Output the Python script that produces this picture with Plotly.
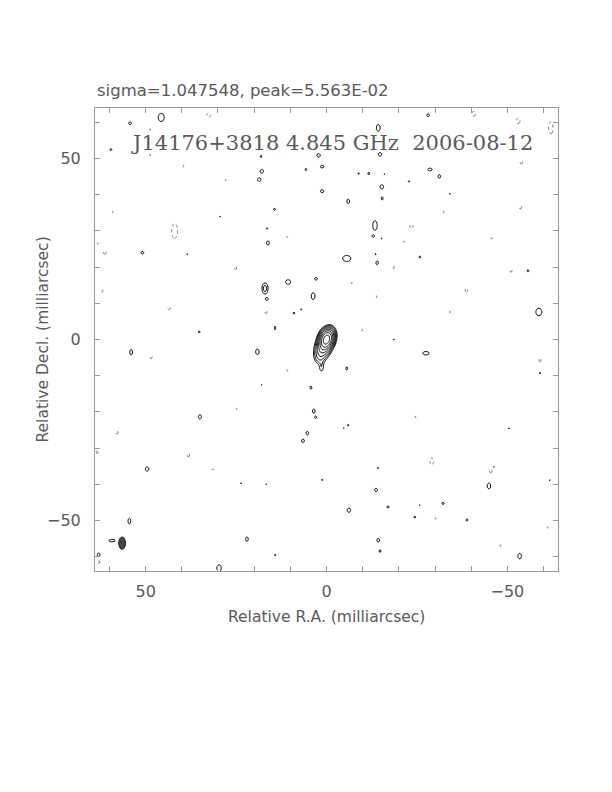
import numpy as np
import plotly.graph_objects as go

header_text = "sigma=1.047548, peak=5.563E-02"
map_title = "J14176+3818 4.845 GHz  2006-08-12"
x_label = "Relative R.A. (milliarcsec)"
y_label = "Relative Decl. (milliarcsec)"
tick_vals = [60, 50, 40, 30, 20, 10, 0, -10, -20, -30, -40, -50, -60]
tick_text = ["", "50", "", "", "", "", "0", "", "", "", "", "\u221250", ""]

# source components (units of the lowest contour): RA, Dec, amplitude, sigma major, sigma minor, PA (deg)
src_ra = [0.0, 1.0, 1.8, 1.4]
src_dec = [0.0, -2.5, -4.6, -7.6]
src_amp = [200.0, 18.0, 5.0, 1.8]
src_smaj = [1.3, 1.2, 1.2, 1.0]
src_smin = [0.85, 1.0, 0.9, 0.45]
src_pa = [-18.0, -10.0, 0.0, 0.0]

# positive noise islands: RA, Dec, amplitude, sigma RA, sigma Dec
pos_ra = [45.7, 54.3, 59.6, 2.2, 1.2, 17.9, 18.6, 5.7, 1.2, 18.1, 14.4, 16.4, 16.2, 50.9, 38.5,
          17.0, 16.5, 10.6, 2.9, 3.7, 9.0, 7.0, 14.2, 35.2, 29.4, -14.3, -28.1, -14.8, -28.6,
          -31.2, -8.9, -11.7, -16.0, -15.3, -15.4, -22.8, -6.0, -34.1, -13.4, -12.9, -15.2,
          -5.6, -13.6, -14.0, -25.8, -55.7, -58.7, -18.6,
          19.1, 54.0, -27.5, -5.6, 4.3, 17.9, 35.0, 3.5, 3.0, 5.3, 6.5, -6.0, -14.2, 1.2, 49.6,
          -13.7, 23.6, 54.5, 16.7, 22.0, 14.2, 29.7, -6.2, -14.3, -14.8, -17.0, -24.4, -25.8,
          -32.2, -38.8, -44.9, -46.3, -53.4, -50.4, -61.7, -59.0, -4.8, 59.3, 63.0]
pos_dec = [61.4, 59.8, 52.5, 50.9, 47.8, 46.5, 44.2, 47.0, 41.0, 50.6, 36.0, 30.7, 26.7, 24.0, 23.6,
           14.1, 11.2, 15.9, 16.8, 12.0, 7.3, 8.3, 3.2, 2.1, 34.0, 58.5, 62.0, 51.2, 47.0,
           45.1, 45.9, 45.9, 45.7, 42.2, 39.0, 43.7, 38.2, 40.3, 31.5, 28.6, 27.9,
           22.4, 23.6, 21.2, 22.8, 19.0, 7.6, 0.0,
           -3.4, -3.5, -3.8, -8.0, -13.3, -12.6, -21.4, -19.8, -21.5, -25.9, -28.0, -23.7, -35.5, -38.8, -35.8,
           -41.6, -39.7, -50.2, -40.0, -55.2, -59.6, -63.2, -47.2, -55.5, -58.5, -46.3, -49.1, -45.8,
           -45.3, -49.9, -40.5, -35.2, -59.9, -24.6, -38.9, -9.3, -24.5, -55.6, -59.5]
pos_amp = [1.7, 1.6, 1.5, 1.6, 1.6, 1.6, 1.6, 1.5, 1.6, 1.5, 1.5, 1.4, 1.6, 1.6, 1.4,
           2.7, 1.6, 1.7, 1.6, 1.7, 1.5, 1.4, 1.5, 1.5, 1.4, 1.7, 1.6, 1.6, 1.6,
           1.6, 1.4, 1.5, 1.4, 1.6, 1.5, 1.4, 1.6, 1.4, 1.7, 1.5, 1.4,
           1.7, 1.4, 1.6, 1.5, 1.5, 1.7, 1.4,
           1.6, 1.6, 1.6, 1.5, 1.5, 1.4, 1.6, 1.6, 1.5, 1.6, 1.6, 1.4, 1.4, 1.4, 1.6,
           1.6, 1.4, 1.6, 1.4, 1.6, 1.4, 1.7, 1.6, 1.6, 1.5, 1.5, 1.5, 1.4,
           1.5, 1.5, 1.6, 1.4, 1.6, 1.4, 1.4, 1.4, 1.4, 1.6, 1.6]
pos_sx = [0.8, 0.4, 0.3, 0.5, 0.5, 0.5, 0.5, 0.25, 0.5, 0.2, 0.3, 0.2, 0.4, 0.4, 0.2,
          0.6, 0.4, 0.7, 0.4, 0.5, 0.3, 0.25, 0.2, 0.3, 0.2, 0.5, 0.4, 0.5, 0.6,
          0.4, 0.25, 0.3, 0.2, 0.5, 0.3, 0.25, 0.4, 0.2, 0.6, 0.35, 0.2,
          1.1, 0.2, 0.35, 0.3, 0.3, 0.8, 0.2,
          0.5, 0.4, 0.9, 0.3, 0.3, 0.2, 0.45, 0.4, 0.3, 0.4, 0.4, 0.25, 0.2, 0.2, 0.5,
          0.4, 0.2, 0.4, 0.2, 0.4, 0.25, 0.6, 0.5, 0.4, 0.3, 0.3, 0.3, 0.2,
          0.35, 0.3, 0.5, 0.2, 0.5, 0.2, 0.2, 0.25, 0.2, 0.9, 0.4]
pos_sy = [1.1, 0.4, 0.3, 0.5, 0.4, 0.5, 0.5, 0.4, 0.4, 0.4, 0.3, 0.3, 0.6, 0.4, 0.2,
          1.1, 0.4, 0.6, 0.4, 0.9, 0.3, 0.25, 0.6, 0.3, 0.2, 0.9, 0.4, 0.5, 0.4,
          0.5, 0.25, 0.4, 0.2, 0.6, 0.5, 0.25, 0.6, 0.2, 1.3, 0.35, 0.2,
          0.8, 0.25, 0.55, 0.3, 0.35, 1.0, 0.2,
          0.8, 0.8, 0.5, 0.5, 0.5, 0.2, 0.6, 0.6, 0.4, 0.5, 0.5, 0.3, 0.3, 0.3, 0.6,
          0.5, 0.2, 0.8, 0.2, 0.6, 0.25, 0.9, 0.6, 0.5, 0.4, 0.4, 0.3, 0.2,
          0.35, 0.35, 0.8, 0.2, 0.8, 0.25, 0.2, 0.3, 0.2, 0.35, 0.5]

# negative noise islands (dotted contours): RA, Dec, amplitude, sigma RA, sigma Dec
neg_ra = [42.0, 43.5, 61.3, 62.1, 25.1, 32.6, 39.7, 28.0, 59.2, 48.9, 48.8, 11.0, 16.7, 63.3,
          -40.7, -53.0, -62.0, -53.9, -53.6, -23.5, -21.4, -18.5, -38.7, -51.0, -13.7, -34.0,
          -45.6, -9.7, -32.3, -7.0, -29.1, -45.4, -59.0, 48.5, 25.0, 10.9, 38.2, 31.4, 57.9,
          63.4, 63.0, -24.5, -48.0, -61.0, -30.0]
neg_dec = [30.0, 8.6, 24.0, 13.4, 19.8, 62.0, 48.0, 44.0, 35.2, 50.9, 58.0, 28.3, 7.6, 26.5,
           62.4, 60.4, 58.5, 49.0, 36.5, 31.3, 27.0, 20.0, 13.6, 19.0, 11.8, 7.6,
           27.9, 2.6, 35.2, 15.6, -33.6, -36.4, -5.7, -4.9, -19.2, -8.7, -32.0, -36.0, -25.7,
           -31.0, -61.5, -21.5, -57.0, -52.0, -49.5]
neg_amp = [-1.7, -1.5, -1.5, -1.5, -1.5, -1.6, -1.4, -1.4, -1.4, -1.4, -1.4, -1.4, -1.5, -1.4,
           -1.6, -1.6, -1.7, -1.5, -1.5, -1.5, -1.4, -1.4, -1.5, -1.5, -1.4, -1.4,
           -1.4, -1.4, -1.4, -1.4, -1.6, -1.5, -1.5, -1.5, -1.4, -1.4, -1.5, -1.4, -1.5,
           -1.5, -1.5, -1.4, -1.4, -1.4, -1.4]
neg_sx = [0.8, 0.4, 0.4, 0.3, 0.3, 0.5, 0.3, 0.3, 0.3, 0.3, 0.3, 0.3, 0.3, 0.3,
          0.5, 0.5, 0.6, 0.4, 0.4, 0.5, 0.3, 0.3, 0.4, 0.3, 0.3, 0.3,
          0.3, 0.3, 0.3, 0.2, 0.6, 0.4, 0.3, 0.3, 0.3, 0.3, 0.4, 0.3, 0.3,
          0.3, 0.4, 0.3, 0.3, 0.3, 0.3]
neg_sy = [2.0, 0.4, 0.5, 0.4, 0.5, 0.6, 0.4, 0.3, 0.3, 0.4, 0.3, 0.3, 0.5, 0.3,
          0.7, 0.8, 1.6, 0.5, 0.4, 0.6, 0.3, 0.5, 0.6, 0.5, 0.4, 0.4,
          0.3, 0.4, 0.3, 0.2, 0.9, 0.5, 0.6, 0.5, 0.4, 0.3, 0.5, 0.3, 0.5,
          0.6, 0.4, 0.3, 0.3, 0.3, 0.3]

# restoring beam (full widths, mas)
beam_ra = 56.5
beam_dec = -56.3
beam_width = 1.9
beam_height = 3.4

# ---------------- build the image ----------------
half = 64.0
step = 0.25
ax = np.arange(-half, half + step / 2, step)
RA, DEC = np.meshgrid(ax, ax)
img = np.zeros_like(RA)

for r0, d0, a, smaj, smin, pa in zip(src_ra, src_dec, src_amp, src_smaj, src_smin, src_pa):
    t = np.deg2rad(pa)
    dr = RA - r0
    dd = DEC - d0
    u = dr * np.sin(t) + dd * np.cos(t)   # along major axis
    v = dr * np.cos(t) - dd * np.sin(t)
    img += a * np.exp(-0.5 * ((u / smaj) ** 2 + (v / smin) ** 2))

for lst in [(pos_ra, pos_dec, pos_amp, pos_sx, pos_sy), (neg_ra, neg_dec, neg_amp, neg_sx, neg_sy)]:
    for r0, d0, a, sx, sy in zip(*lst):
        img += a * np.exp(-0.5 * (((RA - r0) / sx) ** 2 + ((DEC - d0) / sy) ** 2))

z_pos = np.log2(np.clip(img, 0.05, None)).astype(np.float32)
z_neg = (-img).astype(np.float32)

fig = go.Figure()
fig.add_trace(go.Contour(
    x=ax, y=ax, z=z_pos,
    autocontour=False,
    contours=dict(start=0, end=7, size=1, coloring="lines"),
    line=dict(color="black", width=1),
    colorscale=[[0, "black"], [1, "black"]],
    showscale=False, hoverinfo="skip",
))
fig.add_trace(go.Contour(
    x=ax, y=ax, z=z_neg,
    autocontour=False,
    contours=dict(start=1, end=1, size=1, coloring="lines"),
    line=dict(color="#777", width=1, dash="dot"),
    colorscale=[[0, "#777"], [1, "#777"]],
    showscale=False, hoverinfo="skip",
))

fig.add_shape(type="circle", xref="x", yref="y",
              x0=beam_ra - beam_width / 2, x1=beam_ra + beam_width / 2,
              y0=beam_dec - beam_height / 2, y1=beam_dec + beam_height / 2,
              fillcolor="#444", line=dict(color="#222", width=1))

txt = "#5a5a5a"
axis_common = dict(
    tickvals=tick_vals, ticktext=tick_text, ticks="inside", ticklen=5,
    tickcolor="#999", showline=True, linecolor="#999", linewidth=1, mirror="ticks",
    showgrid=False, zeroline=False, tickfont=dict(family="DejaVu Sans", size=16, color=txt),
)
fig.update_layout(
    width=604, height=784,
    margin=dict(l=87, r=54, t=100, b=221),
    paper_bgcolor="white", plot_bgcolor="white",
    showlegend=False,
    xaxis=dict(range=[half, -half], ticklabelstandoff=6, **axis_common),
    yaxis=dict(range=[-half, half], ticklabelstandoff=10, **axis_common),
    annotations=[
        dict(text=header_text, xref="paper", yref="paper", x=0.0, y=1 + 18 / 463,
             xanchor="left", yanchor="middle", showarrow=False,
             font=dict(family="DejaVu Sans", size=16.5, color=txt)),
        dict(text=map_title, xref="paper", yref="paper", x=(332 - 95) / 463, y=(571 - 143) / 463,
             xanchor="center", yanchor="middle", showarrow=False,
             font=dict(family="DejaVu Serif", size=21, color=txt)),
        dict(text=x_label, xref="paper", yref="paper", x=0.5, y=(571 - 617) / 463,
             xanchor="center", yanchor="middle", showarrow=False,
             font=dict(family="DejaVu Sans", size=15.5, color=txt)),
        dict(text=y_label, xref="paper", yref="paper", x=(42 - 95) / 463, y=0.5,
             xanchor="center", yanchor="middle", showarrow=False, textangle=-90,
             font=dict(family="DejaVu Sans", size=15.5, color=txt)),
    ],
)

fig.write_html("out.html")
